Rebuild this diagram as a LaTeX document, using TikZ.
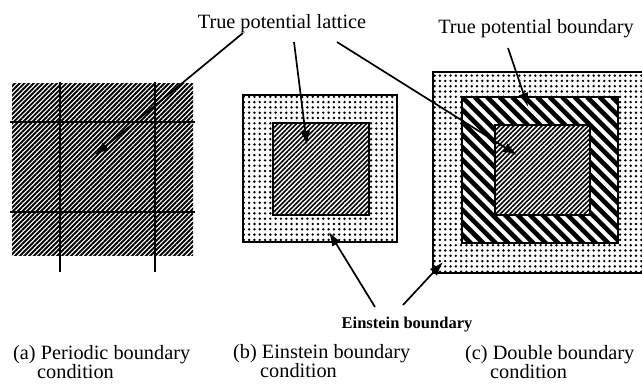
\documentclass[tikz,border=0pt]{standalone}
\usepackage{fontspec}
\setmainfont{Liberation Serif}
\usetikzlibrary{arrows.meta,patterns.meta}

\begin{document}
\begin{tikzpicture}[x=1pt,y=-1pt,
    fine/.style={pattern={Lines[angle=45,distance=3.3pt,line width=1.6pt]}},
    dense/.style={pattern={Lines[angle=45,distance=3.3pt,line width=1.9pt]}},
    dotty/.style={pattern={Dots[distance=5.3pt,radius=1.35pt]}},
    box/.style={line width=1.8pt},
    pointer/.style={line width=1.7pt,-{Latex[length=14pt,width=10pt]}},
    lbl/.style={inner sep=0pt,font=\fontsize{20.3}{20}\selectfont},
    captext/.style={inner sep=0pt,align=left,font=\fontsize{20.3}{19}\selectfont}]
    \useasboundingbox (0,0) rectangle (642,383);
    % (a) periodic boundary
    \fill[dense] (12,83) rectangle (193,255);
    \foreach \x in {60,155} \draw[line width=2.2pt] (\x,82) -- (\x,272);
    \foreach \y in {122,212} \draw[line width=2.2pt] (10,\y) -- (195,\y);
    % (b) einstein boundary
    \filldraw[box,dotty] (243,95) rectangle (397,242);
    \filldraw[box,fine,preaction={fill=white}] (273,123) rectangle (369,215);
    % (c) double boundary
    \filldraw[box,dotty] (433,72) rectangle (652,273);
    \fill[white] (462,97) rectangle (618,243);
    \begin{scope}
        \clip (462,97) rectangle (618,243);
        \foreach \i in {-150,-137.5,...,160} \draw[line width=4.6pt] (462+\i,97) -- ++(160,160);
    \end{scope}
    \draw[box] (462,97) rectangle (618,243);
    \filldraw[box,fine,preaction={fill=white}] (495,125) rectangle (590,215);
    % labels
    \node[lbl,anchor=base] (lattice) at (282,28) {True potential lattice};
    \node[lbl,anchor=base] (tpbound) at (536,33) {True potential boundary};
    \node[lbl,anchor=base,font=\bfseries\fontsize{16.5}{16}\selectfont] (einstein) at (407,328) {Einstein boundary};
    % arrow ends
    \coordinate (lat1) at (243,33);
    \coordinate (lat2) at (294,42);
    \coordinate (lat3) at (337,42);
    \coordinate (tpb1) at (508,48);
    \coordinate (ein1) at (375,307);
    \coordinate (ein2) at (403,305);
    \coordinate (tipa) at (95,155);
    \coordinate (tipb) at (307,145);
    \coordinate (tipc) at (517,155);
    \coordinate (tipm) at (528,107);
    \coordinate (tipbe) at (329,232);
    \coordinate (tipce) at (443,262);
    \draw[pointer] (lat1) -- (tipa);
    \draw[pointer] (lat2) -- (tipb);
    \draw[pointer] (lat3) -- (tipc);
    \draw[pointer] (tpb1) -- (tipm);
    \draw[pointer] (ein1) -- (tipbe);
    \draw[pointer] (ein2) -- (tipce);
    % captions
    \node[captext,anchor=base west] (capa) at (13,378) {(a) Periodic boundary\\\hspace*{24pt}condition};
    \node[captext,anchor=base west] (capb) at (233,377) {(b) Einstein boundary\\\hspace*{27pt}condition};
    \node[captext,anchor=base west] (capc) at (465,378) {(c) Double boundary\\\hspace*{25pt}condition};
\end{tikzpicture}
\end{document}
